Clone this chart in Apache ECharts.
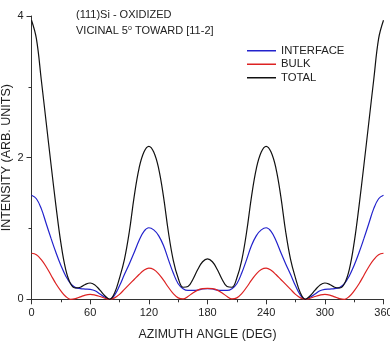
<!DOCTYPE html>
<html><head><meta charset="utf-8">
<script src="https://cdn.jsdelivr.net/npm/echarts@6/dist/echarts.min.js"></script>
<style>html,body{margin:0;padding:0;background:#fff}#c{width:390px;height:349px}</style>
</head><body><div id="c"></div>
<script>
const angles = [0,5,10,15,20,25,30,35,40,45,50,55,60,65,70,75,80,85,90,95,100,105,110,115,120,125,130,135,140,145,150,155,160,165,170,175,180,
185,190,195,200,205,210,215,220,225,230,235,240,245,250,255,260,265,270,275,280,285,290,295,300,305,310,315,320,325,330,335,340,345,350,355,360];
const interfaceVals = [1.47,1.42,1.28,1.07,0.86,0.66,0.48,0.33,0.22,0.165,0.15,0.145,0.14,0.12,0.075,0.03,0.00,0.06,0.19,0.35,0.50,0.66,0.83,0.96,1.01,0.98,0.90,0.76,0.56,0.37,0.22,0.15,0.125,0.125,0.13,0.145,0.15,
0.145,0.13,0.125,0.125,0.15,0.22,0.37,0.56,0.76,0.90,0.98,1.01,0.96,0.83,0.66,0.50,0.35,0.19,0.06,0.00,0.03,0.075,0.12,0.14,0.145,0.15,0.165,0.22,0.33,0.48,0.66,0.86,1.07,1.28,1.42,1.47];
const bulkVals = [0.65,0.63,0.56,0.46,0.34,0.22,0.12,0.04,0.00,0.01,0.035,0.06,0.07,0.06,0.04,0.015,0.00,0.02,0.07,0.14,0.21,0.28,0.35,0.41,0.44,0.42,0.36,0.27,0.17,0.08,0.02,0.005,0.04,0.09,0.13,0.15,0.155,
0.15,0.13,0.09,0.04,0.005,0.02,0.08,0.17,0.27,0.36,0.42,0.44,0.41,0.35,0.28,0.21,0.14,0.07,0.02,0.00,0.015,0.04,0.06,0.07,0.06,0.035,0.01,0.00,0.04,0.12,0.22,0.34,0.46,0.56,0.63,0.65];
const totalVals = [3.94,3.68,3.10,2.50,1.90,1.32,0.80,0.42,0.22,0.16,0.17,0.21,0.23,0.20,0.13,0.05,0.00,0.09,0.30,0.56,0.95,1.45,1.85,2.08,2.16,2.08,1.85,1.45,0.95,0.55,0.30,0.17,0.18,0.28,0.42,0.53,0.57,
0.53,0.42,0.28,0.18,0.17,0.30,0.55,0.95,1.45,1.85,2.08,2.16,2.08,1.85,1.45,0.95,0.56,0.30,0.09,0.00,0.05,0.13,0.20,0.23,0.21,0.17,0.16,0.22,0.42,0.80,1.32,1.90,2.50,3.10,3.68,3.94];
const xTicks = [0,60,120,180,240,300,360];
const yTicks = [0,2,4];
const seriesNames = ['INTERFACE','BULK','TOTAL'];
const titleLine1 = '(111)Si - OXIDIZED';
const xName = 'AZIMUTH ANGLE (DEG)';
const yName = 'INTENSITY (ARB. UNITS)';

const font = 'Liberation Sans, Arial, sans-serif';
const pairs = v => angles.map((a,i)=>[a,v[i]]);
const chart = echarts.init(document.getElementById('c'), null, {renderer:'canvas'});
const axisCol = '#333';
chart.setOption({
  animation:false,
  backgroundColor:'#fff',
  textStyle:{fontFamily:font},
  grid:{left:31.5, right:6.5, top:16, bottom:49.7, containLabel:false, outerBoundsMode:'none'},
  legend:{
    orient:'vertical', left:247, top:45, padding:0, icon:'rect', itemWidth:29, itemHeight:1.5, itemGap:2,
    textStyle:{fontFamily:font, fontSize:11.3, color:'#222', lineHeight:11.5},
    data:seriesNames
  },
  graphic:[
    {type:'text', left:76, top:9.5, style:{text:titleLine1, font:'11px '+font, fill:'#222'}},
    {type:'text', left:76, top:24.5, style:{
      text:'VICINAL 5{sup|o} TOWARD [11-2]',
      font:'11px '+font, fill:'#222',
      rich:{sup:{fontSize:7, fontFamily:font, fill:'#222', verticalAlign:'top', padding:[0,0,5,0]}}
    }}
  ],
  xAxis:{
    type:'value', min:0, max:360, interval:60,
    name:xName, nameLocation:'middle', nameGap:29, nameMoveOverlap:false,
    nameTextStyle:{fontFamily:font, fontSize:12.3, color:'#222'},
    axisLine:{show:true, lineStyle:{color:axisCol, width:1}},
    axisTick:{show:true, length:5, lineStyle:{color:axisCol}},
    minorTick:{show:true, splitNumber:2, length:3, lineStyle:{color:axisCol}},
    axisLabel:{fontFamily:font, fontSize:11, color:'#222', margin:8, hideOverlap:false,
      formatter:v=> xTicks.indexOf(v)>=0 ? String(v) : ''},
    splitLine:{show:false}
  },
  yAxis:{
    type:'value', min:0, max:4, interval:2,
    name:yName, nameLocation:'middle', nameGap:18, nameMoveOverlap:false,
    nameTextStyle:{fontFamily:font, fontSize:12.5, color:'#222'},
    axisLine:{show:true, lineStyle:{color:axisCol, width:1}},
    axisTick:{show:true, length:5, lineStyle:{color:axisCol}},
    minorTick:{show:true, splitNumber:2, length:3, lineStyle:{color:axisCol}},
    axisLabel:{fontFamily:font, fontSize:11, color:'#222', margin:8,
      formatter:v=> yTicks.indexOf(v)>=0 ? String(v) : ''},
    splitLine:{show:false}
  },
  series:[
    {name:seriesNames[0], type:'line', data:pairs(interfaceVals), smooth:0.4, showSymbol:false, lineStyle:{color:'#2222cc', width:1.2}, itemStyle:{color:'#2222cc'}},
    {name:seriesNames[1], type:'line', data:pairs(bulkVals), smooth:0.4, showSymbol:false, lineStyle:{color:'#dd2222', width:1.2}, itemStyle:{color:'#dd2222'}},
    {name:seriesNames[2], type:'line', data:pairs(totalVals), smooth:0.4, showSymbol:false, lineStyle:{color:'#111111', width:1.2}, itemStyle:{color:'#111111'}}
  ]
});
</script></body></html>
